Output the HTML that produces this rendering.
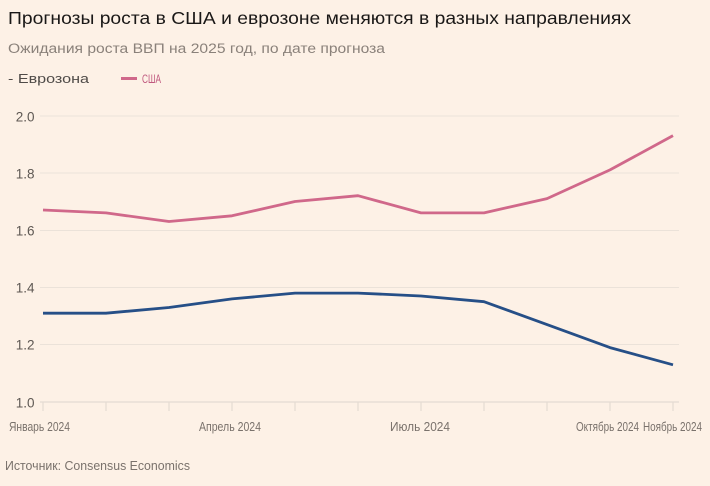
<!DOCTYPE html>
<html><head><meta charset="utf-8"><style>
html,body{margin:0;padding:0;background:#fdf1e6;}
svg{display:block;}
text{font-family:"Liberation Sans",sans-serif;}
</style></head><body>
<svg width="710" height="486" viewBox="0 0 710 486" xmlns="http://www.w3.org/2000/svg">
<rect width="710" height="486" fill="#fdf1e6"/>
<text x="8" y="24" font-size="17.5" fill="#1a1817" textLength="623" lengthAdjust="spacingAndGlyphs">Прогнозы роста в США и еврозоне меняются в разных направлениях</text>
<text x="8" y="53" font-size="13.5" fill="#8a817a" textLength="377" lengthAdjust="spacingAndGlyphs">Ожидания роста ВВП на 2025 год, по дате прогноза</text>
<text x="8" y="83" font-size="12.5" fill="#4f4b48" textLength="81" lengthAdjust="spacingAndGlyphs">- Еврозона</text>
<line x1="121" y1="78.5" x2="137" y2="78.5" stroke="#d0688a" stroke-width="3"/>
<text x="142" y="83" font-size="11.5" fill="#c0587e" textLength="19" lengthAdjust="spacingAndGlyphs">США</text>

<g stroke="#ebe2d9" stroke-width="1">
<line x1="40" y1="116" x2="679" y2="116"/>
<line x1="40" y1="173" x2="679" y2="173"/>
<line x1="40" y1="230.5" x2="679" y2="230.5"/>
<line x1="40" y1="287.5" x2="679" y2="287.5"/>
<line x1="40" y1="344.5" x2="679" y2="344.5"/>
</g>
<g stroke="#e4dbd2" stroke-width="1.2">
<line x1="40" y1="402" x2="679" y2="402"/>
<line x1="43" y1="402" x2="43" y2="411"/>
<line x1="106" y1="402" x2="106" y2="411"/>
<line x1="169" y1="402" x2="169" y2="411"/>
<line x1="232" y1="402" x2="232" y2="411"/>
<line x1="295" y1="402" x2="295" y2="411"/>
<line x1="358" y1="402" x2="358" y2="411"/>
<line x1="421" y1="402" x2="421" y2="411"/>
<line x1="484" y1="402" x2="484" y2="411"/>
<line x1="547" y1="402" x2="547" y2="411"/>
<line x1="610" y1="402" x2="610" y2="411"/>
<line x1="673" y1="402" x2="673" y2="411"/>
</g>
<g font-size="13.5" fill="#5e5853" text-anchor="end">
<text x="34.5" y="121.5">2.0</text>
<text x="34.5" y="178.5">1.8</text>
<text x="34.5" y="235.5">1.6</text>
<text x="34.5" y="292.5">1.4</text>
<text x="34.5" y="349.5">1.2</text>
<text x="34.5" y="407.5">1.0</text>
</g>
<g font-size="12.5" fill="#7a726c">
<text x="9" y="431" textLength="61" lengthAdjust="spacingAndGlyphs">Январь 2024</text>
<text x="199" y="431" textLength="62" lengthAdjust="spacingAndGlyphs">Апрель 2024</text>
<text x="390" y="431" textLength="60" lengthAdjust="spacingAndGlyphs">Июль 2024</text>
<text x="576" y="431" textLength="63" lengthAdjust="spacingAndGlyphs">Октябрь 2024</text>
<text x="643" y="431" textLength="59" lengthAdjust="spacingAndGlyphs">Ноябрь 2024</text>
</g>
<polyline fill="none" stroke="#d0688a" stroke-width="2.8" stroke-linejoin="round" points="43,210 106,212.9 169,221.5 232,215.8 295,201.5 358,195.7 421,212.9 484,212.9 547,198.6 610,169.9 673,135.6"/>
<polyline fill="none" stroke="#264f87" stroke-width="2.8" stroke-linejoin="round" points="43,313.2 106,313.2 169,307.5 232,298.9 295,293.1 358,293.1 421,296 484,301.7 547,324.6 610,347.6 673,364.8"/>
<text x="5" y="470" font-size="13" fill="#7a726c" textLength="185" lengthAdjust="spacingAndGlyphs">Источник: Consensus Economics</text>
</svg>
</body></html>
